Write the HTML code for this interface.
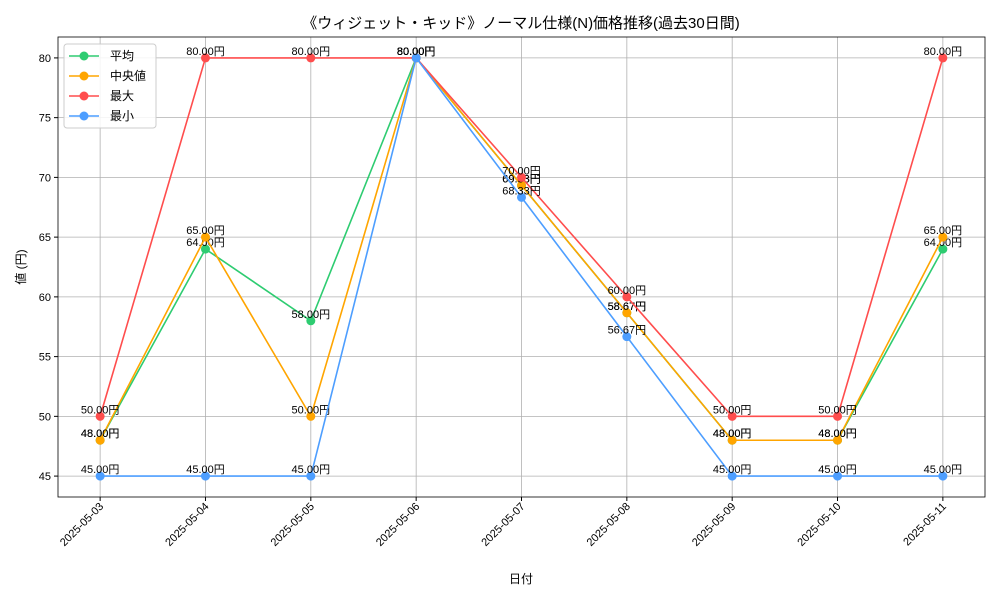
<!DOCTYPE html>
<html><head><meta charset="utf-8"><style>
body{margin:0;background:#fff;}
svg{display:block;font-family:"Liberation Sans","Noto Sans CJK JP",sans-serif;}
</style></head><body>
<svg id="chart" width="1000" height="600" xmlns="http://www.w3.org/2000/svg">
<rect width="1000" height="600" fill="#fff"/>
<text x="521" y="28" text-anchor="middle" font-size="15" fill="#000">《ウィジェット・キッド》ノーマル仕様(N)価格推移(過去30日間)</text>
<g id="grid"></g><g id="axes"></g><g id="series"></g>
<text x="521" y="583" text-anchor="middle" font-size="12">日付</text>
<text transform="translate(25,267) rotate(-90)" text-anchor="middle" font-size="12">値 (円)</text>
</svg>
<script>
const categories=["2025-05-03","2025-05-04","2025-05-05","2025-05-06","2025-05-07","2025-05-08","2025-05-09","2025-05-10","2025-05-11"];
const meanValues=[48,64,58,80,69.33,58.67,48,48,64];
const medianValues=[48,65,50,80,69.33,58.67,48,48,65];
const maxValues=[50,80,80,80,70,60,50,50,80];
const minValues=[45,45,45,80,68.33,56.67,45,45,45];
const yTicks=[45,50,55,60,65,70,75,80];
const seriesNames=["平均","中央値","最大","最小"];
const L=58,R=985,T=37,B=497,yMin=43.25,yMax=81.75;
const xS=i=>L+(i+0.4)/(categories.length-1+0.8)*(R-L);
const yS=v=>B-(v-yMin)/(yMax-yMin)*(B-T);
const NS="http://www.w3.org/2000/svg";
function mk(tag,attrs,parent,txt){const e=document.createElementNS(NS,tag);for(const k in attrs)e.setAttribute(k,attrs[k]);if(txt!==undefined)e.textContent=txt;parent.appendChild(e);return e;}
const grid=document.getElementById('grid'),axes=document.getElementById('axes'),ser=document.getElementById('series');
yTicks.forEach(v=>{const y=yS(v);
 const g=mk('line',{x1:L,x2:R,y1:y,y2:y,stroke:'#b0b0b0','stroke-width':0.8},grid);
 
 mk('line',{x1:L-4,x2:L,y1:y,y2:y,stroke:'#000'},axes);
 const t=mk('text',{x:L-7,y:y+4,'text-anchor':'end','font-size':11},axes,String(v));
 });
categories.forEach((c,i)=>{const x=xS(i);
 const g=mk('line',{x1:x,x2:x,y1:T,y2:B,stroke:'#b0b0b0','stroke-width':0.8},grid);
 
 mk('line',{x1:x,x2:x,y1:B,y2:B+4,stroke:'#000'},axes);
 const t=mk('text',{x:x+4,y:B+10,'text-anchor':'end','font-size':11,transform:`rotate(-45 ${x+4} ${B+10})`},axes,c);
 });
const frame=mk('rect',{x:L,y:T,width:R-L,height:B-T,fill:'none',stroke:'#000','stroke-width':0.8},axes);

const allSeries=[meanValues,medianValues,maxValues,minValues];
const colors=["#2ecc71","#ffa500","#ff4d4d","#4d9eff"];
allSeries.forEach((vals,s)=>{
 const g=mk('g',{},ser);
 
 const pl=mk('polyline',{points:vals.map((v,i)=>xS(i)+','+yS(v)).join(' '),fill:'none',stroke:colors[s],'stroke-width':1.6},g);
 
 vals.forEach((v,i)=>{
  const c=mk('circle',{cx:xS(i),cy:yS(v),r:4.5,fill:colors[s]},g);
  
  const t=mk('text',{x:xS(i),y:yS(v)-3,'text-anchor':'middle','font-size':11,fill:'#000'},g,v.toFixed(2)+'円');
  });
});
const lg=mk('g',{},ser);

mk('rect',{x:64,y:44,width:92,height:84,rx:3,fill:'#fff','fill-opacity':0.85,stroke:'#ccc'},lg);
seriesNames.forEach((n,s)=>{const y=56+s*20;
 const e=mk('g',{},lg);
 
 mk('line',{x1:69,x2:99,y1:y,y2:y,stroke:colors[s],'stroke-width':1.6},e);
 mk('circle',{cx:84,cy:y,r:4.5,fill:colors[s]},e);
 mk('text',{x:110,y:y+4,'font-size':12},e,n);});
</script>
</body></html>
